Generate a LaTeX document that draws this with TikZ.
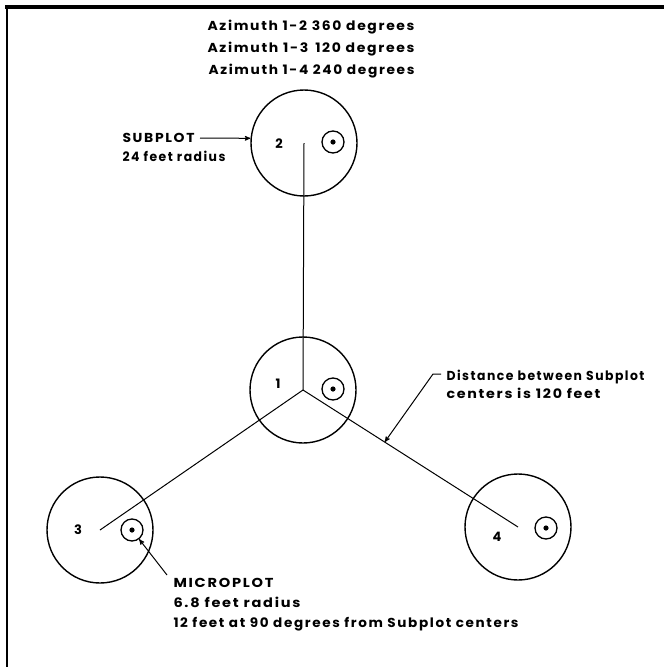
\documentclass[tikz,border=0pt]{standalone}
\usepackage{fontspec}
\usepackage{graphicx}
\setmainfont{Poppins}[LetterSpace=12]
\usetikzlibrary{arrows, calc}
% lettering stretched to the width it has on the plate
\newcommand{\lettered}[2]{\resizebox{#1pt}{\height}{#2}}

\begin{document}
\begin{tikzpicture}[x=1pt, y=-1pt, >=stealth', line width=1pt, font=\bfseries\fontsize{13}{15}\selectfont,
		subplot/.style={circle, draw, line width=1.4pt, inner sep=0pt, minimum size=106pt},
		microplot/.style={circle, draw, line width=1.3pt, inner sep=0pt, minimum size=22pt},
		txt/.style={anchor=base west, inner sep=0pt},
		num/.style={inner sep=0pt}]
		\useasboundingbox (0, 0) rectangle (664, 667);
		\draw[line width=3.5pt] (5, 7) -- (664, 7);
		\draw[line width=2.5pt] (7, 5) -- (7, 667);
		
		\node[txt] (az2) at (207, 30) {\lettered{207}{Azimuth 1-2 360 degrees}};
		\node[txt] (az3) at (207, 52) {\lettered{207}{Azimuth 1-3 \,120 degrees}};
		\node[txt] (az4) at (208, 74.5) {\lettered{206}{Azimuth 1-4 240 degrees}};
		
		\node[subplot] (s2) at (304, 143) {};
		\node[subplot] (s1) at (303, 390) {};
		\node[subplot] (s3) at (100, 530) {};
		\node[subplot] (s4) at (518, 527) {};
		
		\node[num] (n2) at (279, 144) {2};
		\node[num] (n1) at (278, 384) {1};
		\node[num] (n3) at (78, 530) {3};
		\node[num] (n4) at (497, 537) {4};
		
		\node[microplot] (m2) at (333, 142) {};
		\node[microplot] (m1) at (333, 389) {};
		\node[microplot] (m3) at (132, 530) {};
		\node[microplot] (m4) at (546, 528) {};
		\fill (m2) circle (2.6) (m1) circle (2.6) (m3) circle (2.6) (m4) circle (2.6);
		
		\path (s1.center) edge (s2.center)
			edge (s3.center)
			edge (s4.center);
		
		\node[txt] (sub) at (122, 142.5) {\lettered{72}{SUBPLOT}};
		\node[txt] (subr) at (122, 161.5) {\lettered{103}{24 feet radius}};
		\draw[->] (200, 138) -- (s2.175);
		
		\node[txt] (dist) at (446, 380) {\lettered{198}{Distance between Subplot}};
		\node[txt] (distc) at (446, 398.5) {\lettered{154}{centers is 120 feet}};
		\coordinate (dtail) at (441, 374);
		\coordinate (dcut) at ($(s1.center)!0.38!(s4.center)$);
		\draw[->] (dtail) -- ++(-8, 0) -- (dcut);
		
		\node[txt] (micro) at (173, 587.5) {\lettered{100}{MICROPLOT}};
		\node[txt] (micror) at (173, 607.5) {\lettered{127}{6.8 feet radius}};
		\node[txt] (microd) at (173, 627.5) {\lettered{345}{12 feet at 90 degrees from Subplot centers}};
		\coordinate (mtail) at (167, 575);
		\draw[->] (mtail) -- (m3);
		
	\end{tikzpicture}
\end{document}
